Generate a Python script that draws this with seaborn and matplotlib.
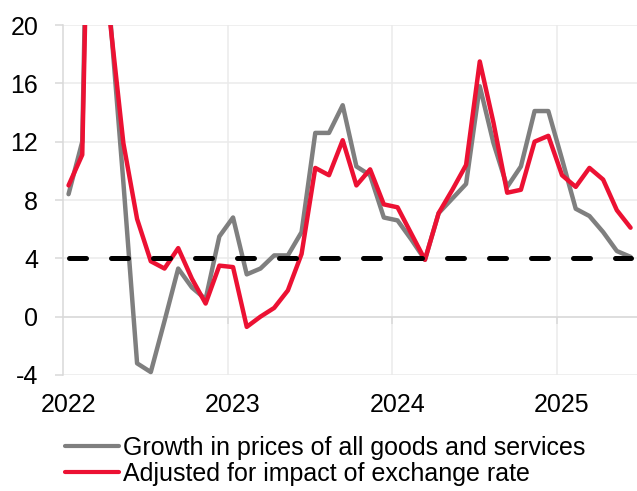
import numpy as np
import pandas as pd
import matplotlib
matplotlib.use("Agg")
import matplotlib.pyplot as plt
import seaborn as sns
from matplotlib.ticker import FixedLocator

# ---------------- data ----------------
months = pd.date_range("2022-01-01", periods=42, freq="MS")
all_goods = [8.4, 12.0, 60.0, 21.0, 9.2, -3.2, -3.8, -0.3, 3.3, 2.0, 1.2, 5.5,
             6.8, 2.9, 3.3, 4.2, 4.2, 5.8, 12.6, 12.6, 14.5, 10.3, 9.7, 6.8,
             6.6, 5.3, 3.9, 7.1, 8.1, 9.1, 15.8, 11.9, 8.9, 10.3, 14.1, 14.1,
             10.8, 7.4, 6.9, 5.8, 4.5, 4.1]
adjusted = [9.0, 11.1, 55.0, 20.5, 11.9, 6.7, 3.8, 3.3, 4.7, 2.6, 0.9, 3.5,
            3.4, -0.7, 0.0, 0.6, 1.8, 4.3, 10.2, 9.7, 12.1, 9.0, 10.1, 7.7,
            7.5, 5.7, 3.9, 7.1, 8.7, 10.4, 17.5, 13.3, 8.5, 8.7, 12.0, 12.4,
            9.7, 8.9, 10.2, 9.4, 7.3, 6.1]
target_value = 4.0
series_names = ["Growth in prices of all goods and services",
                "Adjusted for impact of exchange rate"]
year_labels = ["2022", "2023", "2024", "2025"]
y_ticks = [-4, 0, 4, 8, 12, 16, 20]

GRAY = "#7F7F7F"
RED = "#EC1133"
AXIS_C = "#D9D9D9"
GRID_C = "#EBEBEB"

# ---------------- style ----------------
sns.set_theme(style="white")
plt.rcParams["font.family"] = ["Liberation Sans", "DejaVu Sans"]
plt.rcParams["text.color"] = "black"

W, H = 637, 491
fig = plt.figure(figsize=(W / 100, H / 100), dpi=100)
left_px, top_px, bottom_px = 63.2, 25, 375
ax = fig.add_axes([left_px / W, (H - bottom_px) / H, 1 - left_px / W,
                   (bottom_px - top_px) / H])

idx = np.arange(len(months))
df = pd.DataFrame({
    "idx": np.concatenate([idx, idx]),
    "value": all_goods + adjusted,
    "series": [series_names[0]] * len(idx) + [series_names[1]] * len(idx),
})

sns.lineplot(data=df, x="idx", y="value", hue="series",
             palette=[GRAY, RED], linewidth=3.2, ax=ax,
             solid_joinstyle="round", solid_capstyle="round")

# target dashed line
ax.plot(idx, [target_value] * len(idx), color="black", lw=3.6,
        linestyle=(0, (3.4, 5.0)), dash_capstyle="round", zorder=3)

ax.set_xlim(-0.39, 41.47)
ax.set_ylim(-4, 20)
ax.set_xlabel("")
ax.set_ylabel("")

# y axis
ax.set_yticks(y_ticks)
ax.set_yticklabels([str(v) for v in y_ticks])
ax.tick_params(axis="y", which="major", left=True, length=5.8, width=1.1,
               color=AXIS_C, pad=12.2, labelsize=18, labelcolor="black",
               direction="out")
for s in ["top", "right", "bottom"]:
    ax.spines[s].set_visible(False)
ax.spines["left"].set_color(AXIS_C)
ax.spines["left"].set_linewidth(1.1)
ax.yaxis.grid(True, color=GRID_C, lw=1.1)

# x axis: labels at January points, gridlines at year boundaries
ax.set_xticks([0, 12, 24, 36])
ax.set_xticklabels(year_labels)
ax.tick_params(axis="x", which="major", length=0, pad=13.3, labelsize=18,
               labelcolor="black")
bounds = [12 * k - 0.39 for k in range(1, 4)]
ax.xaxis.set_minor_locator(FixedLocator(bounds))
ax.tick_params(axis="x", which="minor", length=0)
ax.xaxis.grid(True, which="minor", color=GRID_C, lw=1.1)
ax.xaxis.grid(False, which="major")

# horizontal axis line crossing at zero with small ticks
sec = ax.secondary_xaxis(1 / 6)
sec.set_xticks(bounds)
sec.tick_params(axis="x", length=5, width=1.1, color=AXIS_C,
                labelbottom=False, labeltop=False, direction="out")
for s in sec.spines.values():
    s.set_color(AXIS_C)
    s.set_linewidth(1.1)
sec.set_zorder(1.7)

# legend
handles, labels = ax.get_legend_handles_labels()
if ax.get_legend() is not None:
    ax.get_legend().remove()
for h in handles:
    h.set_linewidth(3.0)
leg = fig.legend(handles, labels, loc="upper left",
                 bbox_to_anchor=(65 / W, 1 - 435.5 / H), frameon=False,
                 fontsize=18, handlelength=2.16, handletextpad=0.16,
                 labelspacing=0.08, borderpad=0, borderaxespad=0)
for t in leg.get_texts():
    t.set_color("black")

fig.savefig("out.png", dpi=100)
